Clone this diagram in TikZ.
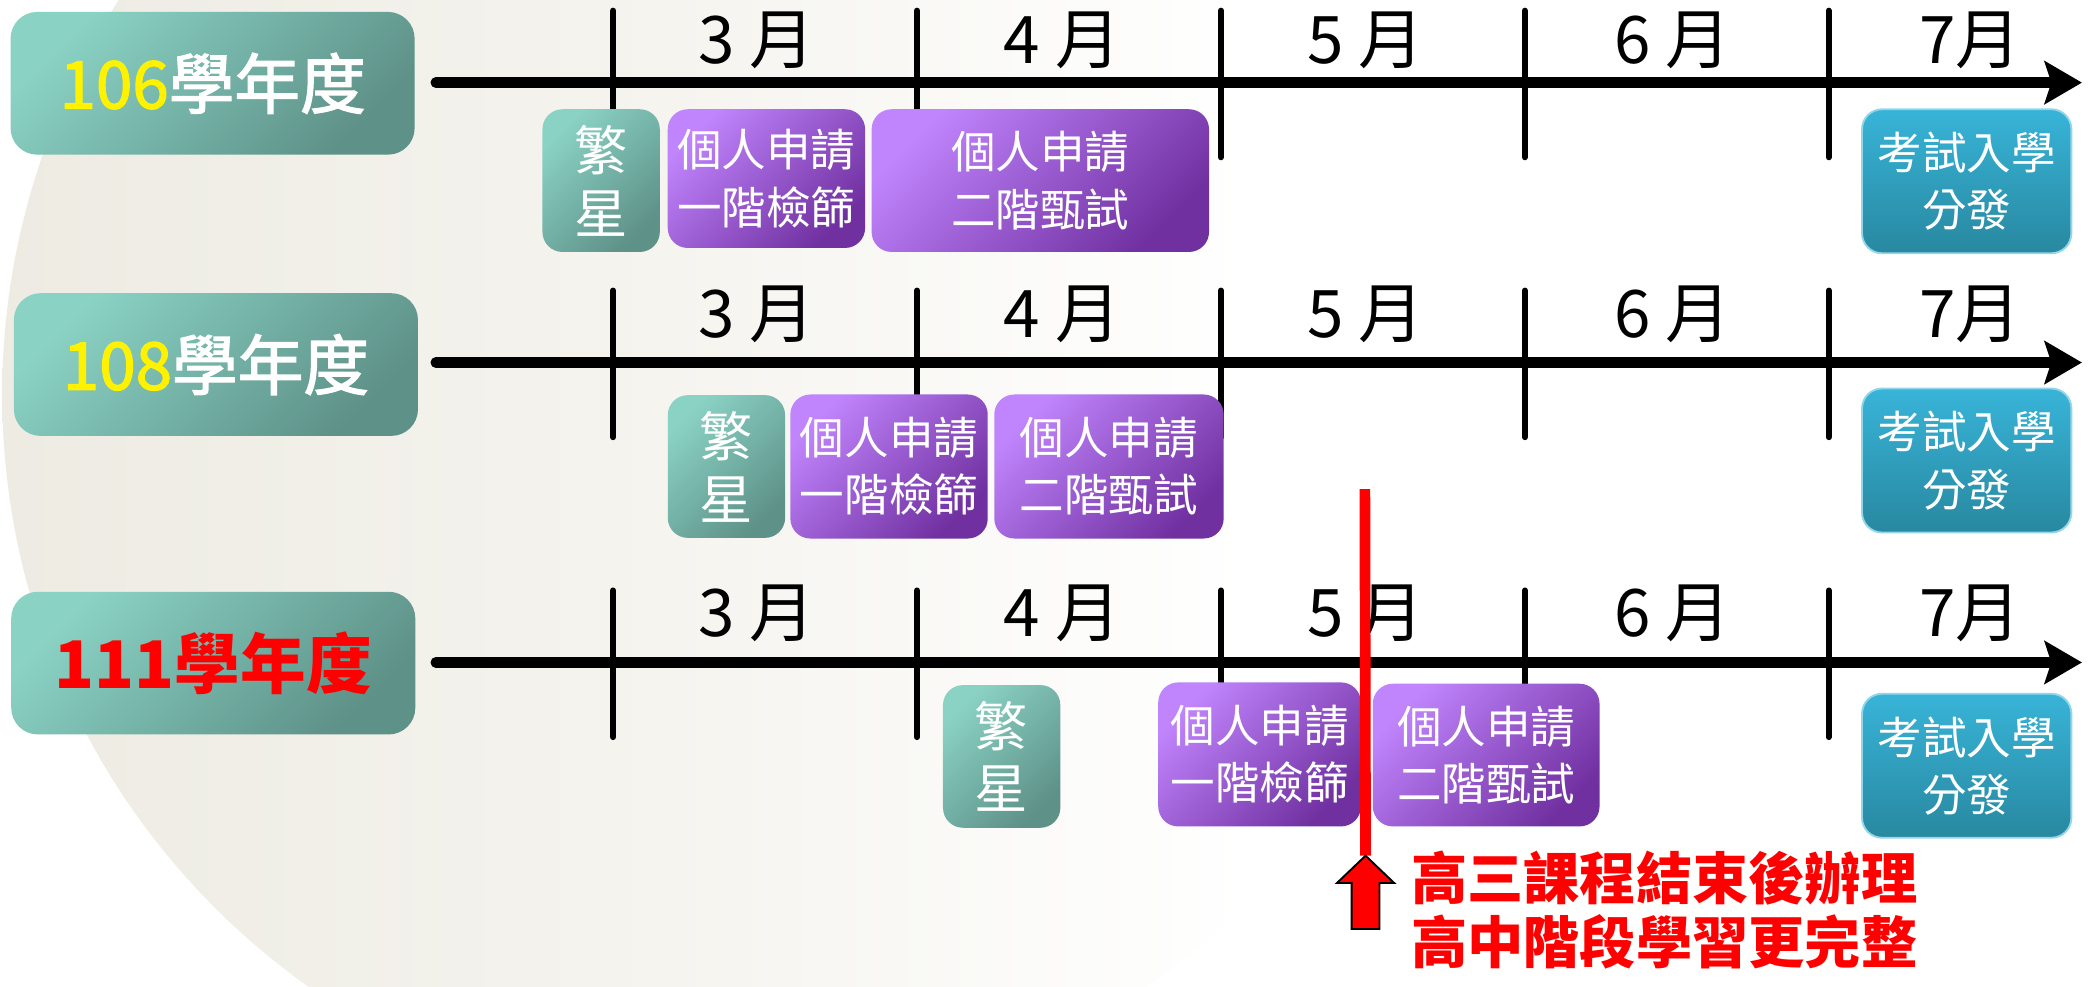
\documentclass[tikz,border=0pt]{standalone}
\usepackage{fontspec}
\setmainfont{Noto Sans CJK TC}
\newfontfamily\yearfont[FakeBold=2]{Noto Sans CJK TC}
\usetikzlibrary{positioning, arrows.meta}
\definecolor{tealA}{RGB}{138,210,196}
\definecolor{tealB}{RGB}{94,145,136}
\definecolor{purpA}{RGB}{192,132,252}
\definecolor{purpB}{RGB}{112,48,160}
\definecolor{blueA}{RGB}{56,180,216}
\definecolor{blueB}{RGB}{40,136,160}
\definecolor{bgbeige}{RGB}{237,235,226}
\pgfdeclarehorizontalshading{bgfade}{100bp}{color(0bp)=(bgbeige); color(25bp)=(bgbeige); color(48bp)=(bgbeige!55!white); color(68bp)=(white); color(100bp)=(white)}
\tikzset{
axisline/.style={line width=0.08cm, line cap=round, -{Stealth[length=0.28cm, width=0.32cm, inset=0.05cm]}}, % the time axis of one school year
monthtick/.style={line width=0.045cm, line cap=round}, % border between two months
month/.style={font=\fontsize{14}{16}\selectfont, text=black}, % month names above the axis
yearbox/.style={rounded corners=0.2cm, minimum width=3.03cm, minimum height=1.07cm, top color=tealA, bottom color=tealB, shading angle=45, text=white, font=\fontsize{14}{16}\selectfont\yearfont},
starbox/.style={rounded corners=0.15cm, minimum width=0.88cm, minimum height=1.07cm, top color=tealA, bottom color=tealB, shading angle=45, text=white, align=center, font=\fontsize{11.4}{13.4}\selectfont},
applybox/.style={rounded corners=0.15cm, inner xsep=0.07cm, minimum height=1.07cm, top color=purpA, bottom color=purpB, shading angle=45, text=white, align=center, font=\fontsize{9.5}{12.2}\selectfont},
exambox/.style={rounded corners=0.15cm, minimum width=1.55cm, minimum height=1.08cm, top color=blueA, bottom color=blueB, draw=blueA!55!white, thin, text=white, align=center, font=\fontsize{9.5}{12.2}\selectfont},
}
\begin{document}
\begin{tikzpicture}[x=0.01cm, y=-0.01cm]
        \useasboundingbox (0,0) rectangle (1568,740);
        \fill[white] (0,0) rectangle (1568,740);
        \begin{scope}
        \clip (0,0) rectangle (1568,740);
        \shade[shading=bgfade] (546,296) circle (5.44cm);
        \end{scope}
        % axes, month borders and month names
        \foreach \r/\ay/\ly in {106/62/30, 108/272/236, 111/497/460}{
            \coordinate (s\r) at (327,\ay);
            \coordinate (e\r) at (1562,\ay);
            \draw[axisline] (s\r) -- (e\r);
            \foreach \tx in {460,688,916,1144,1372}
                \draw[monthtick] (\tx,\ay-54) -- (\tx,\ay+56);
            \foreach \m/\mx in {3 月/568, 4 月/797, 5 月/1025, 6 月/1255, 7月/1478}
                \node[month] (m\r\mx) at (\mx,\ly) {\m};
        }
        % school years
        \node[yearbox] (y106) at (159.5,62.5) {{\color{yellow}106}學年度};
        \node[yearbox] (y108) at (162,273.5) {{\color{yellow}108}學年度};
        \node[yearbox, text=red, font=\fontsize{14}{16}\selectfont\bfseries] (y111) at (160,497.5) {111學年度};
        % 106
        \node[starbox] (star106) at (451,135.5) {繁\\星};
        \node[applybox, minimum width=1.48cm, minimum height=1.04cm] (one106) at (575,134) {個人申請\\一階檢篩};
        \node[applybox, minimum width=2.53cm] (two106) at (780.5,135.5) {個人申請\\二階甄試};
        \node[exambox] (exam106) at (1475.5,136) {考試入學\\分發};
        % 108
        \node[starbox] (star108) at (545,350) {繁\\星};
        \node[applybox, minimum width=1.48cm, minimum height=1.08cm] (one108) at (667,350) {個人申請\\一階檢篩};
        \node[applybox, minimum width=1.72cm, minimum height=1.08cm] (two108) at (832,350) {個人申請\\二階甄試};
        \node[exambox] (exam108) at (1475.5,345.5) {考試入學\\分發};
        % 111
        \node[starbox] (star111) at (751.5,567.5) {繁\\星};
        \node[applybox, minimum width=1.52cm, minimum height=1.08cm] (one111) at (945,566) {個人申請\\一階檢篩};
        \node[applybox, minimum width=1.70cm] (two111) at (1115,566.5) {個人申請\\二階甄試};
        \node[exambox] (exam111) at (1475.5,574.5) {考試入學\\分發};
        % cut line and up arrow
        \coordinate (cutTop) at (1024,367);
        \coordinate (arrowTip) at (1024.5,642);
        \draw[red, line width=0.08cm] (cutTop) -- (arrowTip);
        \draw[fill=red, draw=black, line width=0.4pt, line join=miter]
            (arrowTip) -- (1046,662.5) -- (1035,662.5) -- (1035,697)
            -- (1014,697) -- (1014,662.5) -- (1003,662.5) -- cycle;
        \node[anchor=west, inner sep=0pt, text=red, align=left, font=\fontsize{12}{13.6}\selectfont\bfseries] (note) at (1058,683) {高三課程結束後辦理\\高中階段學習更完整};
    \end{tikzpicture}
\end{document}
